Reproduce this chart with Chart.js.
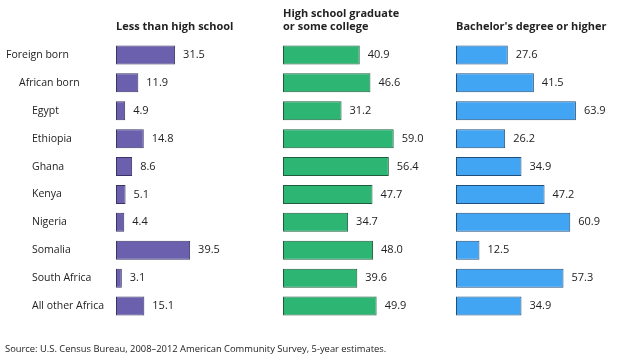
<!DOCTYPE html>
<html>
<head>
<meta charset="utf-8">
<script src="https://cdn.jsdelivr.net/npm/chart.js@4.4.1/dist/chart.umd.min.js"></script>
<style>
  html, body { margin: 0; padding: 0; background: #fff; }
  body { width: 620px; height: 362px; position: relative; overflow: hidden; font-family: "Open Sans", sans-serif; }
  .panel { position: absolute; top: 0; height: 362px; }
  #source { position: absolute; left: 5px; top: 342px; font-size: 9.4px; color: #222; white-space: nowrap; }
</style>
</head>
<body>
<div class="panel" id="p0" style="left:0;width:283px"><canvas id="c0"></canvas></div>
<div class="panel" id="p1" style="left:283px;width:167px"><canvas id="c1"></canvas></div>
<div class="panel" id="p2" style="left:456px;width:167px"><canvas id="c2"></canvas></div>
<div id="source">Source: U.S. Census Bureau, 2008–2012 American Community Survey, 5-year estimates.</div>

<script>
// data (percent)
const categories = ["Foreign born", "African born", "Egypt", "Ethiopia", "Ghana", "Kenya", "Nigeria", "Somalia", "South Africa", "All other Africa"];
const levels = [0, 1, 2, 2, 2, 2, 2, 2, 2, 2]; // label nesting
const lessThanHS = [31.5, 11.9, 4.9, 14.8, 8.6, 5.1, 4.4, 39.5, 3.1, 15.1];
const hsOrCollege = [40.9, 46.6, 31.2, 59.0, 56.4, 47.7, 34.7, 48.0, 39.6, 49.9];
const bachelors = [27.6, 41.5, 63.9, 26.2, 34.9, 47.2, 60.9, 12.5, 57.3, 34.9];
const panelTitles = [["Less than high school"], ["High school graduate", "or some college"], ["Bachelor's degree or higher"]];

const FONT = '"Open Sans", sans-serif';
const fills = ["#6b60ae", "#2db673", "#41a5f3"];
const edges = ["#3a3466", "#1e5e3d", "#214f7c"];
const xMax = 89;

// value labels, titles and (first panel) category labels
const annotate = {
  id: "annotate",
  afterDraw(chart, args, opts) {
    const ctx = chart.ctx;
    const area = chart.chartArea;
    const meta = chart.getDatasetMeta(0);
    ctx.save();
    ctx.fillStyle = "#222";
    ctx.textBaseline = "middle";
    ctx.font = "11px " + FONT;
    ctx.textAlign = "left";
    meta.data.forEach((bar, i) => {
      ctx.fillText(chart.data.datasets[0].data[i].toFixed(1), bar.x + 8, bar.y);
    });

    if (opts.showCategories) {
      const ys = chart.scales.y;
      ctx.font = "10.5px " + FONT;
      categories.forEach((c, i) => {
        ctx.fillText(c, 6 + levels[i] * 13, ys.getPixelForValue(i));
      });
    }

    ctx.font = "bold 11px " + FONT;
    ctx.textBaseline = "alphabetic";
    const lines = opts.title;
    lines.forEach((t, k) => {
      ctx.fillText(t, area.left, area.top - 11 - (lines.length - 1 - k) * 13);
    });
    ctx.restore();
  }
};

function makePanel(id, values, idx, padLeft) {
  return new Chart(document.getElementById(id), {
    type: "bar",
    data: {
      labels: categories,
      datasets: [{
        data: values,
        backgroundColor: fills[idx],
        borderColor: edges[idx],
        borderWidth: 1,
        borderSkipped: false,
        barPercentage: 0.68,
        categoryPercentage: 1
      }]
    },
    options: {
      indexAxis: "y",
      responsive: true,
      maintainAspectRatio: false,
      animation: false,
      layout: { padding: { left: padLeft, right: 0, top: 41, bottom: 42 } },
      scales: {
        x: { display: false, min: 0, max: xMax },
        y: { display: false }
      },
      plugins: {
        legend: { display: false },
        tooltip: { enabled: false },
        annotate: { title: panelTitles[idx], showCategories: idx === 0 }
      }
    },
    plugins: [annotate]
  });
}

document.addEventListener("DOMContentLoaded", () => {
  makePanel("c0", lessThanHS, 0, 116);
  makePanel("c1", hsOrCollege, 1, 0);
  makePanel("c2", bachelors, 2, 0);
});
</script>
</body>
</html>
